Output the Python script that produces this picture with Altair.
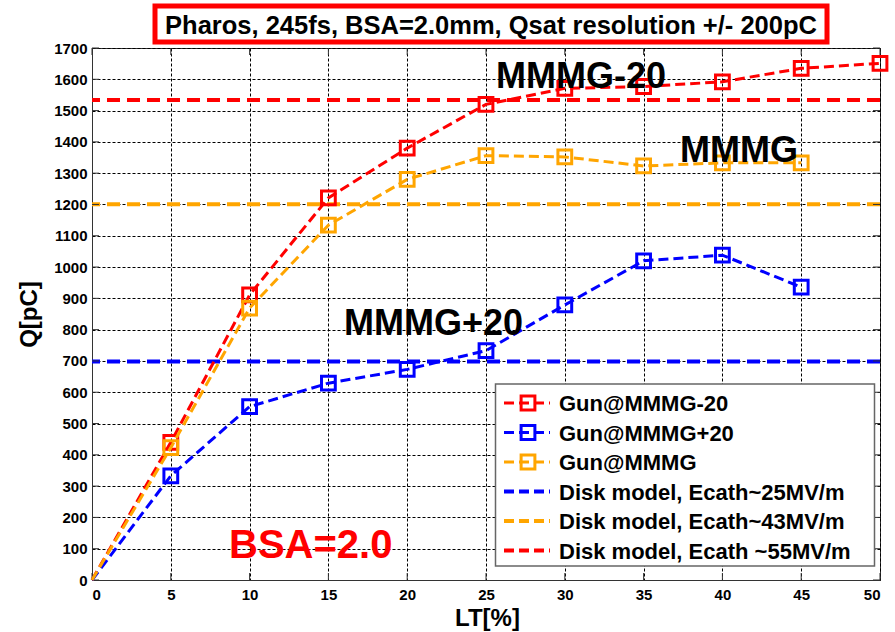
import altair as alt
import pandas as pd

# ---------------- data ----------------
lt = [0, 5, 10, 15, 20, 25, 30, 35, 40, 45, 50]
q_gun_m20 = [0, 440, 911, 1221, 1380, 1520, 1571, 1577, 1592, 1635, 1651]
lt_short = [0, 5, 10, 15, 20, 25, 30, 35, 40, 45]
q_gun_p20 = [0, 333, 554, 629, 673, 733, 879, 1020, 1038, 936]
q_gun_mmmg = [0, 423, 869, 1134, 1280, 1356, 1352, 1323, 1333, 1333]

disk_labels = ["Disk model, Ecath~25MV/m", "Disk model, Ecath~43MV/m", "Disk model, Ecath ~55MV/m"]
disk_q = [698, 1201, 1534]

gun_labels = ["Gun@MMMG-20", "Gun@MMMG+20", "Gun@MMMG"]
x_ticks = list(range(0, 51, 5))
y_ticks = list(range(0, 1701, 100))

title_text = "Pharos, 245fs, BSA=2.0mm, Qsat resolution +/- 200pC"

RED, BLUE, ORANGE = "#FF0000", "#0000FF", "#FFA500"
FONT = "Liberation Sans"

W, H = 788, 532

xs = alt.Scale(domain=[0, 50], nice=False, zero=False)
ys = alt.Scale(domain=[0, 1700], nice=False, zero=False)

df_m20 = pd.DataFrame({"lt": lt, "q": q_gun_m20})
df_p20 = pd.DataFrame({"lt": lt_short, "q": q_gun_p20})
df_mm = pd.DataFrame({"lt": lt_short, "q": q_gun_mmmg})

x_axis = alt.Axis(values=x_ticks, format="d", labelOverlap=False)
y_axis = alt.Axis(values=y_ticks, format="d", labelOverlap=False)

def X():
    return alt.X("lt:Q", scale=xs, title="LT[%]", axis=x_axis)

def Y():
    return alt.Y("q:Q", scale=ys, title="Q[pC]", axis=y_axis)

layers = []

series = [(df_m20, RED), (df_p20, BLUE), (df_mm, ORANGE)]

# disk model horizontal dashed lines
for val, col in zip(disk_q, [BLUE, ORANGE, RED]):
    layers.append(
        alt.Chart(pd.DataFrame({"q": [val]})).mark_rule(
            color=col, strokeWidth=4, strokeDash=[13, 7]
        ).encode(y=Y())
    )

# inward ticks on all sides
tx = pd.DataFrame({"lt": x_ticks})
ty = pd.DataFrame({"q": y_ticks})
layers += [
    alt.Chart(tx).mark_rule(color="#333", strokeWidth=1).encode(
        x=X(), y=alt.value(H - 7), y2=alt.value(H)),
    alt.Chart(ty).mark_rule(color="#333", strokeWidth=1).encode(
        y=Y(), x=alt.value(0), x2=alt.value(7)),
    alt.Chart(ty).mark_rule(color="#333", strokeWidth=1).encode(
        y=Y(), x=alt.value(W - 7), x2=alt.value(W)),
    alt.Chart(tx).mark_rule(color="#333", strokeWidth=1).encode(
        x=X(), y=alt.value(0), y2=alt.value(7)),
]

for df, col in series:
    base = alt.Chart(df)
    layers.append(base.mark_line(color=col, strokeWidth=3, strokeDash=[10, 5]).encode(
        x=X(), y=Y()))
    layers.append(base.transform_filter("datum.lt > 0").mark_point(
        shape="square", filled=False, color=col, size=190, strokeWidth=3, opacity=1
    ).encode(x=X(), y=Y()))

# annotations
one = pd.DataFrame({"a": [0]})
def label(text, x, y, size, color="black"):
    return alt.Chart(one).mark_text(
        text=text, align="left", baseline="alphabetic", font=FONT,
        fontWeight="bold", fontSize=size, color=color
    ).encode(x=alt.value(x), y=alt.value(y))

layers += [
    label("MMMG-20", 404, 40, 36),
    label("MMMG", 588, 114, 36),
    label("MMMG+20", 252, 287, 36),
    label("BSA=2.0", 137, 510, 40, RED),
]

# title box
layers.append(alt.Chart(one).mark_rect(fill="white", stroke=RED, strokeWidth=5).encode(
    x=alt.value(63), x2=alt.value(735), y=alt.value(-42), y2=alt.value(-6)))
layers.append(alt.Chart(one).mark_text(
    text=title_text, align="center", baseline="alphabetic", font=FONT,
    fontWeight="bold", fontSize=25.5, color="black"
).encode(x=alt.value(399), y=alt.value(-14)))

# custom legend
layers.append(alt.Chart(one).mark_rect(fill="white", stroke="#666", strokeWidth=1.5).encode(
    x=alt.value(403.5), x2=alt.value(782.5), y=alt.value(336), y2=alt.value(518)))

leg_labels = gun_labels + disk_labels
leg_colors = [RED, BLUE, ORANGE, BLUE, ORANGE, RED]
row0, step = 355, 29.5
for i, (lab, col) in enumerate(zip(leg_labels, leg_colors)):
    yy = row0 + i * step
    if i < 3:
        layers.append(alt.Chart(one).mark_rule(color=col, strokeWidth=3, strokeDash=[10, 5]).encode(
            x=alt.value(412), x2=alt.value(458), y=alt.value(yy)))
        layers.append(alt.Chart(one).mark_point(shape="square", filled=False, color=col,
                                                size=190, strokeWidth=3, opacity=1).encode(
            x=alt.value(436), y=alt.value(yy)))
    else:
        layers.append(alt.Chart(one).mark_rule(color=col, strokeWidth=4, strokeDash=[10, 5]).encode(
            x=alt.value(412), x2=alt.value(458), y=alt.value(yy)))
    layers.append(alt.Chart(one).mark_text(
        text=lab, align="left", baseline="middle", font=FONT, fontWeight="bold",
        fontSize=22, color="black").encode(x=alt.value(467), y=alt.value(yy + 1)))

chart = alt.layer(*layers).properties(
    width=W, height=H,
    autosize=alt.AutoSizeParams(type="none"),
    padding={"left": 92, "top": 48, "right": 15, "bottom": 52},
    background="white",
).configure_view(
    stroke="#333", strokeWidth=1
).configure_axis(
    grid=True, gridColor="black", gridDash=[3, 2], gridWidth=1, gridOpacity=1,
    domainColor="#333", domainWidth=1, ticks=False,
    labelFont=FONT, labelFontWeight="bold", labelFontSize=15, labelColor="black",
    titleFont=FONT, titleFontWeight="bold", titleColor="black",
).configure_axisY(
    labelPadding=5, titleFontSize=24, titleX=-63, titleY=H / 2,
    titleBaseline="middle", titleAlign="center", titleAngle=-90,
).configure_axisX(
    labelPadding=7, titleFontSize=24, titleX=W / 2 + 1, titleY=45,
    titleBaseline="alphabetic", titleAlign="center",
)

chart.save("out.html", embed_options={"renderer": "svg", "actions": False})
